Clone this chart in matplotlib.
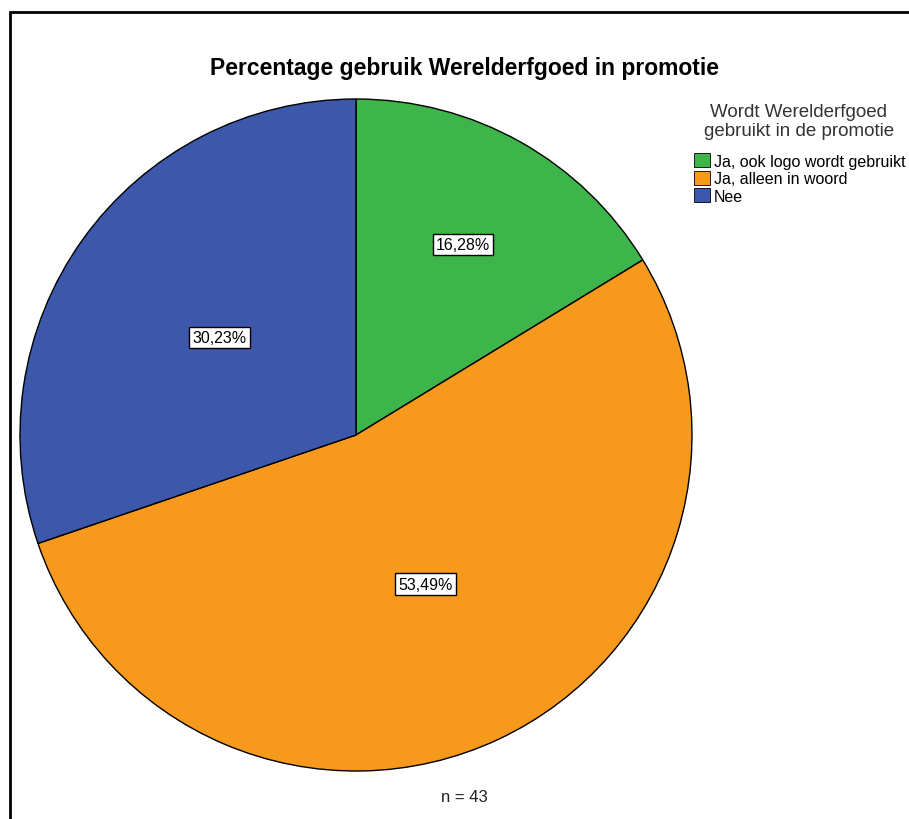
import numpy as np
import matplotlib
matplotlib.use('Agg')
import matplotlib.pyplot as plt
from matplotlib.patches import Rectangle

plt.rcParams['font.family'] = ['Liberation Sans', 'DejaVu Sans']

categories = ['Ja, ook logo wordt gebruikt', 'Ja, alleen in woord', 'Nee']
percentages = [16.28, 53.49, 30.23]
pct_labels = ['16,28%', '53,49%', '30,23%']
colors = ['#3db54a', '#f7991d', '#3d57aa']
label_dist = [0.65, 0.49, 0.50]

fig = plt.figure(figsize=(9.09, 8.2), dpi=100)

# frame around the chart area
fig.add_artist(Rectangle((10 / 909, -0.1), 1.2, (820 - 13) / 820 + 0.1,
                         transform=fig.transFigure, fill=False,
                         edgecolor='black', linewidth=2))

ax = fig.add_axes([20 / 909, 48 / 820, 672 / 909, 672 / 820])
wedges, _ = ax.pie(percentages, colors=colors, startangle=90, counterclock=False,
                   radius=1, wedgeprops=dict(edgecolor='black', linewidth=1))
ax.set_xlim(-1, 1)
ax.set_ylim(-1, 1)
ax.set_aspect('equal')
ax.axis('off')

for w, lab, d in zip(wedges, pct_labels, label_dist):
    ang = np.deg2rad((w.theta1 + w.theta2) / 2)
    ax.text(d * np.cos(ang), d * np.sin(ang), lab, ha='center', va='center',
            fontsize=11.5,
            bbox=dict(boxstyle='square,pad=0.2', facecolor='white',
                      edgecolor='black', linewidth=1))

fig.text(465 / 909, 1 - 68 / 820, 'Percentage gebruik Werelderfgoed in promotie',
         ha='center', va='center', fontsize=16.5, fontweight='bold')
fig.text(464 / 909, 1 - 798 / 820, 'n = 43', ha='center', va='center',
         fontsize=12, color='#222222')

# legend title drawn separately to control spacing
fig.text(799 / 909, 1 - 122 / 820, 'Wordt Werelderfgoed\ngebruikt in de promotie',
         ha='center', va='center', multialignment='center', fontsize=13.5,
         linespacing=1.15, color='#333333')

leg = fig.legend(wedges, categories,
                 loc='upper left', bbox_to_anchor=(694 / 909, 1 - 154 / 820),
                 frameon=False, fontsize=11.5,
                 handlelength=1.0, handleheight=1.0, handletextpad=0.25,
                 labelspacing=0.12, borderpad=0, borderaxespad=0)
for h in leg.legend_handles:
    h.set_edgecolor('black')
    h.set_linewidth(0.6)

fig.savefig('out.png', dpi=100)
